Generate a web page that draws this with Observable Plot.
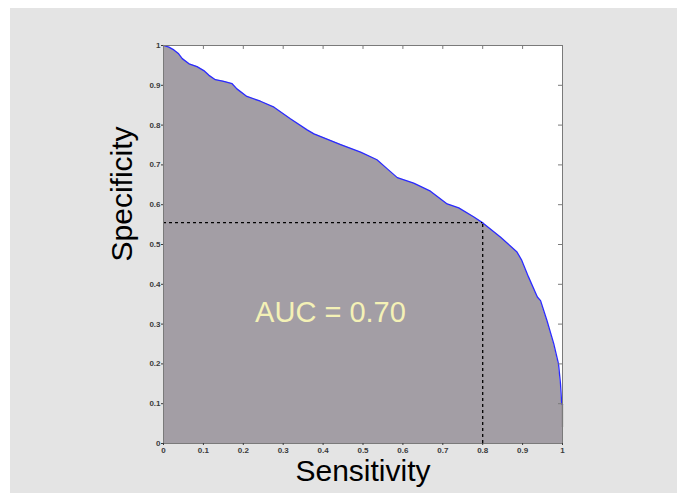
<!DOCTYPE html>
<html>
<head>
<meta charset="utf-8">
<script src="https://cdn.jsdelivr.net/npm/d3@7"></script>
<script src="https://cdn.jsdelivr.net/npm/@observablehq/plot@0.6"></script>
<style>
  html, body { margin: 0; padding: 0; background: #ffffff; }
  #bg { position: absolute; left: 10px; top: 8px; width: 667px; height: 485px; background: #e4e4e4; }
  #chart { position: absolute; left: 0; top: 0; }
  #chart svg { background: transparent; font-family: "Liberation Sans", Arial, sans-serif; }
</style>
</head>
<body>
<div id="bg"></div>
<div id="chart"></div>
<script>
// ROC curve
const sensitivity = [0, 0.0135, 0.026, 0.038, 0.047, 0.064, 0.084, 0.101, 0.114, 0.13, 0.151, 0.172, 0.184, 0.209, 0.243, 0.277, 0.318, 0.36, 0.377, 0.444, 0.494, 0.535, 0.561, 0.586, 0.627, 0.669, 0.711, 0.74, 0.778, 0.802, 0.845, 0.886, 0.898, 0.915, 0.937, 0.945, 0.961, 0.978, 0.99, 0.995, 0.998, 1.0];
const specificity = [1, 0.996, 0.989, 0.979, 0.967, 0.954, 0.947, 0.937, 0.925, 0.914, 0.91, 0.904, 0.891, 0.872, 0.86, 0.845, 0.816, 0.788, 0.778, 0.751, 0.732, 0.713, 0.69, 0.668, 0.654, 0.634, 0.602, 0.592, 0.569, 0.553, 0.518, 0.481, 0.46, 0.418, 0.368, 0.359, 0.309, 0.251, 0.2, 0.15, 0.1, 0.098];
const tailSpecificity = [0.04, 0.098];
const operatingPoint = {sensitivity: 0.8, specificity: 0.555};
const ticks = [0, 0.1, 0.2, 0.3, 0.4, 0.5, 0.6, 0.7, 0.8, 0.9, 1];
const tickLabels = ["0", "0.1", "0.2", "0.3", "0.4", "0.5", "0.6", "0.7", "0.8", "0.9", "1"];
const xLabel = "Sensitivity";
const yLabel = "Specificity";
const aucText = "AUC = 0.70";
const aucPos = {sensitivity: 0.4185, specificity: 0.329};

const curve = sensitivity.map((s, i) => ({s, v: specificity[i]}));
const fmt = d => tickLabels[ticks.indexOf(d)];

const chart = Plot.plot({
  width: 677,
  height: 493,
  marginLeft: 163,
  marginRight: 115,
  marginTop: 45,
  marginBottom: 50,
  style: {background: "transparent", fontFamily: "Liberation Sans, Arial, sans-serif"},
  x: {domain: [0, 1], axis: null},
  y: {domain: [0, 1], axis: null},
  marks: [
    Plot.frame({fill: "#ffffff", stroke: null}),
    Plot.areaY(curve, {x: "s", y: "v", fill: "#a39ea5"}),
    Plot.line(curve, {x: "s", y: "v", stroke: "#2a2aff", strokeWidth: 1.3}),
    Plot.ruleX([1], {y1: tailSpecificity[0], y2: tailSpecificity[1], stroke: "#555555", strokeWidth: 1.2}),
    Plot.ruleY([operatingPoint], {y: "specificity", x1: 0, x2: "sensitivity", stroke: "#000", strokeWidth: 1.3, strokeDasharray: "3,3"}),
    Plot.ruleX([operatingPoint], {x: "sensitivity", y1: 0, y2: "specificity", stroke: "#000", strokeWidth: 1.3, strokeDasharray: "3,3"}),
    Plot.frame({stroke: "#7a7a7a", strokeWidth: 1}),
    Plot.ruleX(ticks, {y1: 1, y2: 0.99, stroke: "#7a7a7a"}),
    Plot.ruleY(ticks, {x1: 1, x2: 0.99, stroke: "#7a7a7a"}),
    Plot.axisX({anchor: "bottom", ticks, tickSize: 2, tickPadding: 2, tickFormat: fmt, fontSize: 8, fontWeight: "bold", color: "#3a3a3a"}),
    Plot.axisY({anchor: "left", ticks, tickSize: 2, tickPadding: 1, tickFormat: fmt, fontSize: 8, fontWeight: "bold", color: "#3a3a3a"}),
    Plot.text([aucText], {x: () => aucPos.sensitivity, y: () => aucPos.specificity, text: d => d, fontSize: 29, fill: "#f4f1b6", textAnchor: "middle", lineAnchor: "middle"}),
    Plot.text([xLabel], {frameAnchor: "bottom", text: d => d, fontSize: 30, fill: "#000", lineAnchor: "middle", dy: 28}),
    Plot.text([yLabel], {frameAnchor: "left", text: d => d, fontSize: 30, fill: "#000", rotate: -90, lineAnchor: "middle", dx: -41, dy: 17})
  ]
});
document.getElementById("chart").appendChild(chart);
</script>
</body>
</html>
